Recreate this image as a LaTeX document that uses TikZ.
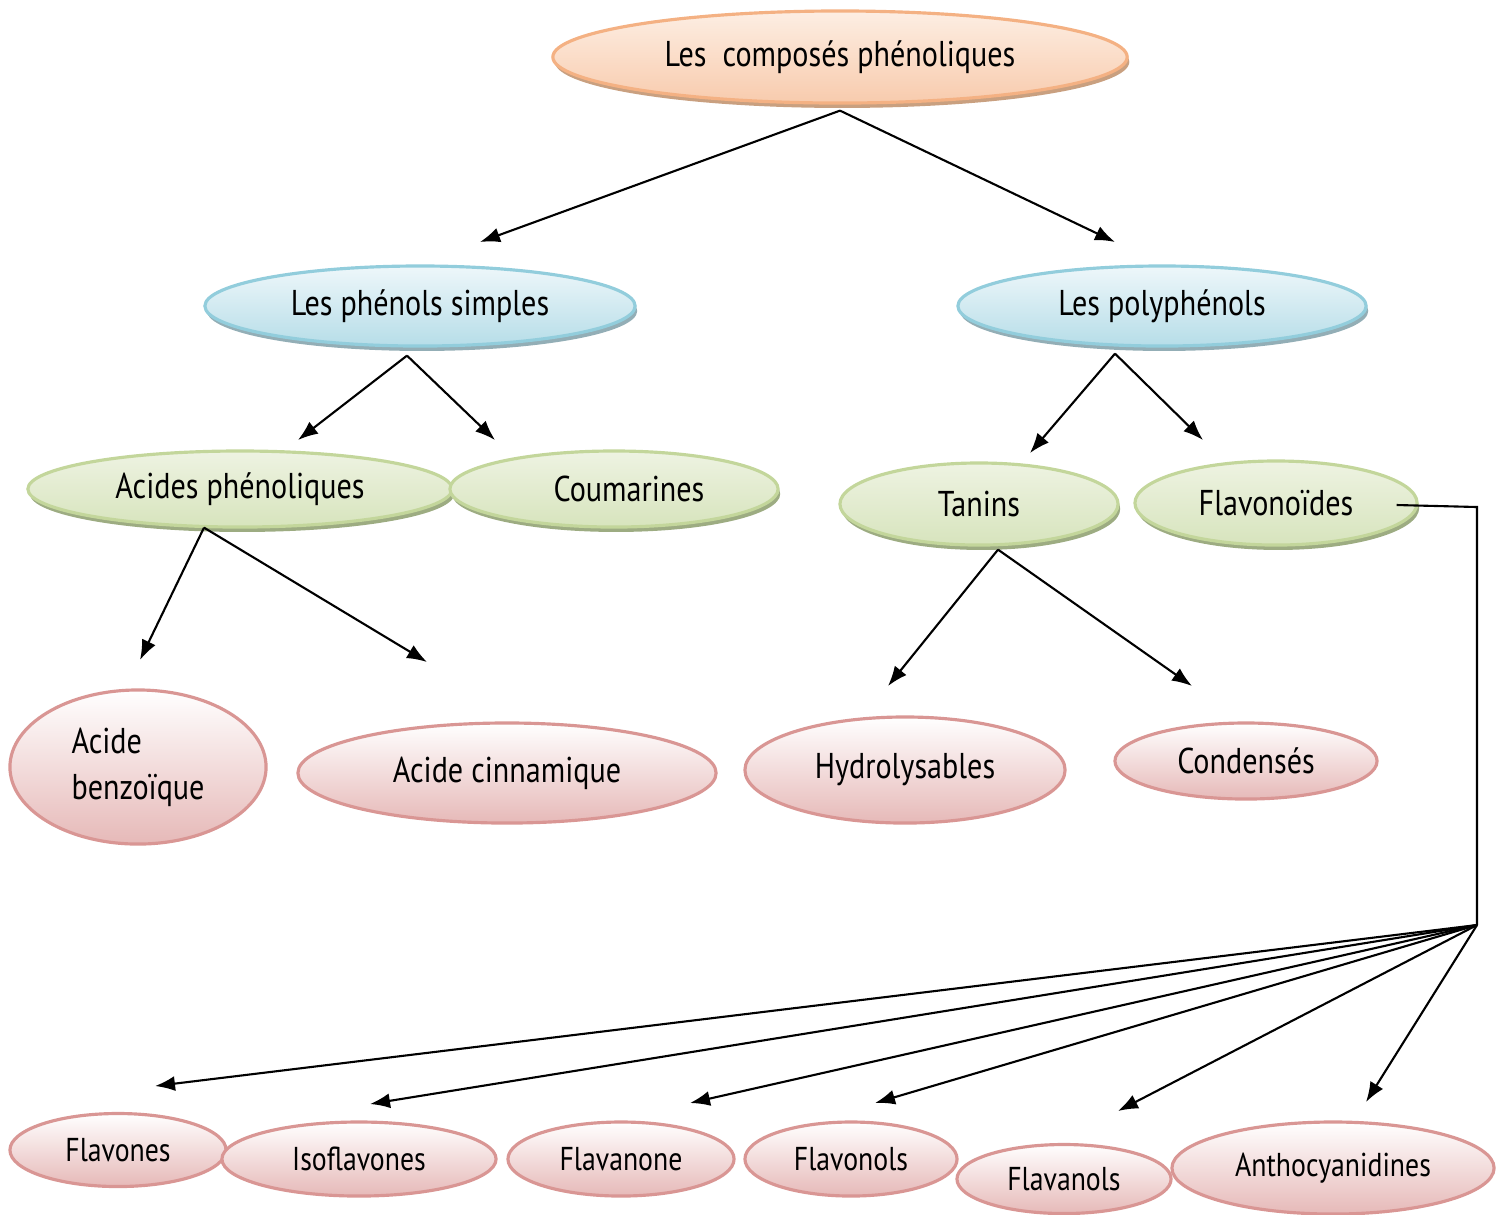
\documentclass[tikz,border=0pt]{standalone}
\usepackage{fontspec}
\setmainfont[FakeStretch=0.84]{PT Sans}
\usetikzlibrary{arrows.meta, calc, shapes.geometric, shadows}
\definecolor{orangeRand}{HTML}{F4B183}
\definecolor{orangeHaut}{HTML}{FDEEE3}
\definecolor{orangeBas}{HTML}{F8CBAD}
\definecolor{orangeOmbre}{HTML}{C9A080}
\definecolor{bleuRand}{HTML}{92CDDC}
\definecolor{bleuHaut}{HTML}{EEF7FA}
\definecolor{bleuBas}{HTML}{B6DDE8}
\definecolor{bleuOmbre}{HTML}{93AEB6}
\definecolor{vertRand}{HTML}{C3D69B}
\definecolor{vertHaut}{HTML}{EEF3E2}
\definecolor{vertBas}{HTML}{D7E4BD}
\definecolor{vertOmbre}{HTML}{9DAC82}
\definecolor{roseRand}{HTML}{D99694}
\definecolor{roseHaut}{HTML}{FFFFFF}
\definecolor{roseBas}{HTML}{E6B9B8}

\begin{document}
\begin{tikzpicture}[
        x=0.01cm, y=-0.01cm,
        bulle/.style={ellipse, inner sep=0pt, line width=0.9pt,
          font=\fontsize{10.2}{13}\selectfont},
        racine/.style={bulle, draw=orangeRand, top color=orangeHaut, bottom color=orangeBas,
          drop shadow={shadow xshift=0.6pt, shadow yshift=-1.4pt, fill=orangeOmbre, opacity=1}},
        niveauA/.style={bulle, draw=bleuRand, top color=bleuHaut, bottom color=bleuBas,
          drop shadow={shadow xshift=0.6pt, shadow yshift=-1.4pt, fill=bleuOmbre, opacity=1}},
        niveauB/.style={bulle, draw=vertRand, top color=vertHaut, bottom color=vertBas,
          drop shadow={shadow xshift=0.6pt, shadow yshift=-1.4pt, fill=vertOmbre, opacity=1}},
        feuille/.style={bulle, draw=roseRand, top color=roseHaut, bottom color=roseBas},
        petite/.style={feuille, font=\fontsize{9.4}{11}\selectfont},
        fleche/.style={-{Latex[length=2mm,width=1.5mm]}, line width=0.6pt},
      ]
      \useasboundingbox (0,0) rectangle (1504,1214);

      % racine
      \node[racine, minimum width=5.74cm, minimum height=0.92cm] (compo) at (840,57)
        {Les\ \ composés phénoliques};

      % deux familles
      \node[niveauA, minimum width=4.30cm, minimum height=0.80cm] (simples) at (420,306)
        {Les phénols simples};
      \node[niveauA, minimum width=4.08cm, minimum height=0.80cm] (poly) at (1162,306)
        {Les polyphénols};

      % sous-familles
      \node[niveauB, minimum width=4.24cm, minimum height=0.76cm] (acph) at (240,489)
        {Acides phénoliques};
      \node[niveauB, minimum width=3.28cm, minimum height=0.76cm] (couma) at (614,489)
        {\hspace*{0.3cm}Coumarines};
      \node[niveauB, minimum width=2.78cm, minimum height=0.82cm] (tanins) at (979,504)
        {Tanins};
      \node[niveauB, minimum width=2.82cm, minimum height=0.84cm] (flavo) at (1276,503)
        {Flavonoïdes};

      % feuilles
      \node[feuille, minimum width=2.56cm, minimum height=1.54cm, align=left] (benzo) at (138,767)
        {Acide\\benzoïque};
      \node[feuille, minimum width=4.18cm, minimum height=1.00cm] (cinna) at (507,773)
        {Acide cinnamique};
      \node[feuille, minimum width=3.20cm, minimum height=1.06cm] (hydro) at (905,770)
        {Hydrolysables};
      \node[feuille, minimum width=2.62cm, minimum height=0.76cm] (conde) at (1246,761)
        {Condensés};

      % classes de flavonoides
      \node[petite, minimum width=2.16cm, minimum height=0.73cm] (fvones) at (118,1150) {Flavones};
      \node[petite, minimum width=2.74cm, minimum height=0.74cm] (isofl) at (359,1159) {Isoflavones};
      \node[petite, minimum width=2.26cm, minimum height=0.74cm] (fnone) at (621,1159) {Flavanone};
      \node[petite, minimum width=2.12cm, minimum height=0.74cm] (fnols) at (851,1159) {Flavonols};
      \node[petite, minimum width=2.14cm, minimum height=0.69cm] (fanols) at (1064,1179) {Flavanols};
      \node[petite, minimum width=3.22cm, minimum height=0.92cm] (antho) at (1333,1168) {Anthocyanidines};

      % bouts libres des fleches
      \coordinate (e1) at (480,242);
      \coordinate (e2) at (1115,242);
      \coordinate (e3) at (298,440);
      \coordinate (e4) at (495,440);
      \coordinate (e5) at (1030,453);
      \coordinate (e6) at (1203,440);
      \coordinate (e7) at (140,660);
      \coordinate (e8) at (427,662);
      \coordinate (e9) at (888,686);
      \coordinate (e10) at (1192,686);
      \coordinate (coin) at (1477,507);
      \coordinate (hub) at (1477,925);
      \coordinate (f1) at (155,1086);
      \coordinate (f2) at (370,1104);
      \coordinate (f3) at (690,1103);
      \coordinate (f4) at (875,1103);
      \coordinate (f5) at (1118,1111);
      \coordinate (f6) at (1366,1102);

      \draw[fleche] ($(compo.south)+(0,6)$) -- (e1);
      \draw[fleche] ($(compo.south)+(0,6)$) -- (e2);
      \draw[fleche] ($(simples.south)+(-13,8)$) -- (e3);
      \draw[fleche] ($(simples.south)+(-13,8)$) -- (e4);
      \draw[fleche] ($(poly.south)+(-47,6)$) -- (e5);
      \draw[fleche] ($(poly.south)+(-47,6)$) -- (e6);
      \draw[fleche] ($(acph.south)+(-36,-1)$) -- (e7);
      \draw[fleche] ($(acph.south)+(-36,-1)$) -- (e8);
      \draw[fleche] ($(tanins.south)+(19,3)$) -- (e9);
      \draw[fleche] ($(tanins.south)+(19,3)$) -- (e10);

      % flavonoides vers leurs classes
      \draw[line width=0.6pt] ($(flavo.east)+(-22,2)$) -- (coin) -- (hub);
      \foreach \c in {f1,f2,f3,f4,f5,f6}
        \draw[fleche] (hub) -- (\c);
    \end{tikzpicture}
\end{document}
